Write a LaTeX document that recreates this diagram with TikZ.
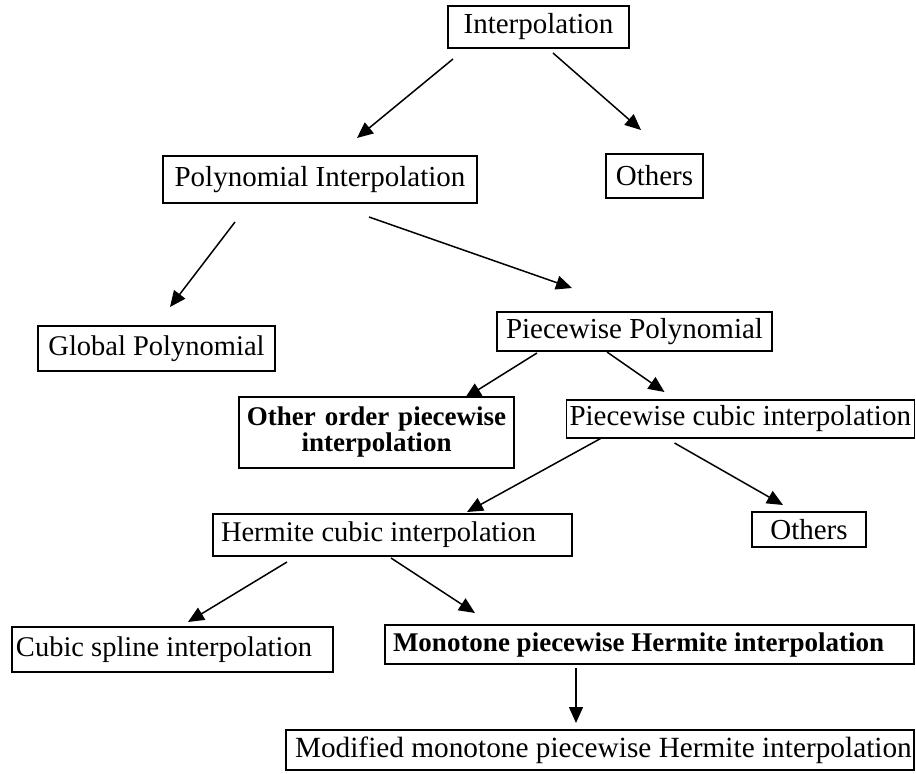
\documentclass[tikz,border=0pt]{standalone}
\usepackage{fontspec}
\setmainfont{Liberation Serif}
\usetikzlibrary{arrows.meta}
\newcommand{\fsz}[1]{\fontsize{#1}{#1}\selectfont}
\newcommand{\lbox}[2]{\makebox[#1][l]{#2}}
\tikzset{
  box/.style={draw=black, line width=1.7pt, inner xsep=5pt, inner ysep=0pt, outer sep=0pt, fill=white},
  arr/.style={line width=1.5pt, -{Triangle[length=16pt,width=14pt]}},
  reg/.style={font=\fsz{29}},
  regs/.style={font=\fsz{28.5}},
  bld/.style={font=\fsz{27}\bfseries}
}
\begin{document}
\begin{tikzpicture}[x=1pt,y=-1pt]
\useasboundingbox[fill=white] (0,0) rectangle (916,774);
% nodes
\node[box, reg, minimum width=181pt, minimum height=42pt] (interp) at (538.5,27) {Interpolation};
\node[box, reg, minimum width=314pt, minimum height=47pt] (poly) at (320,179.5) {Polynomial Interpolation};
\node[box, reg, minimum width=97pt, minimum height=44pt] (others1) at (654.5,176) {Others};
\node[box, regs, minimum width=237pt, minimum height=45pt] (global) at (156.5,348.5) {Global Polynomial};
\node[box, reg, minimum width=275pt, minimum height=39pt] (pwpoly) at (634.5,331.5) {Piecewise Polynomial};
\node[box, bld, text width=265pt, align=center, minimum height=71pt] (otherorder) at (376.5,432.5) {Other order piecewise\\[-1pt]interpolation};
\node[box, reg, inner xsep=3pt, minimum height=38pt] (pwcubic) at (740.5,419) {\lbox{342pt}{Piecewise cubic interpolation}};
\node[box, regs, inner xsep=8pt, minimum height=42pt] (hermite) at (392.5,535) {\lbox{343pt}{Hermite cubic interpolation}};
\node[box, reg, minimum width=114pt, minimum height=35pt] (others2) at (809,529.5) {Others};
\node[box, regs, inner xsep=4pt, minimum height=45pt] (cubicspline) at (172.5,649.5) {\lbox{313pt}{Cubic spline interpolation}};
\node[box, bld, inner xsep=8pt, minimum height=39pt] (monotone) at (649.5,644.5) {\lbox{513pt}{Monotone piecewise Hermite interpolation}};
\node[box, font=\fsz{29.3}, inner xsep=9pt, minimum height=40pt] (modified) at (600,750) {\lbox{610pt}{Modified monotone piecewise Hermite interpolation}};
% connectors
\draw[arr] ([shift={(5,11)}]interp.south west) -- ([shift={(194,-18)}]poly.north west);
\draw[arr] ([shift={(105,5)}]interp.south west) -- ([shift={(35,-24)}]others1.north west);
\draw[arr] ([shift={(72,19)}]poly.south west) -- ([shift={(132,-19)}]global.north west);
\draw[arr] ([shift={(206,14)}]poly.south west) -- ([shift={(75,-24)}]pwpoly.north west);
\draw[arr] ([shift={(40,2)}]pwpoly.south west) -- ([shift={(226,1)}]otherorder.north west);
\draw[arr] ([shift={(110,1)}]pwpoly.south west) -- ([shift={(98,-8)}]pwcubic.north west);
\draw[arr] ([shift={(35,0)}]pwcubic.south west) -- ([shift={(254,-2)}]hermite.north west);
\draw[arr] ([shift={(108,5)}]pwcubic.south west) -- ([shift={(31,-7)}]others2.north west);
\draw[arr] ([shift={(74,6)}]hermite.south west) -- ([shift={(176,-5)}]cubicspline.north west);
\draw[arr] ([shift={(178,2)}]hermite.south west) -- ([shift={(90,-12)}]monotone.north west);
\draw[arr] ([shift={(191,4)}]monotone.south west) -- ([shift={(290,-7)}]modified.north west);
\end{tikzpicture}
\end{document}
